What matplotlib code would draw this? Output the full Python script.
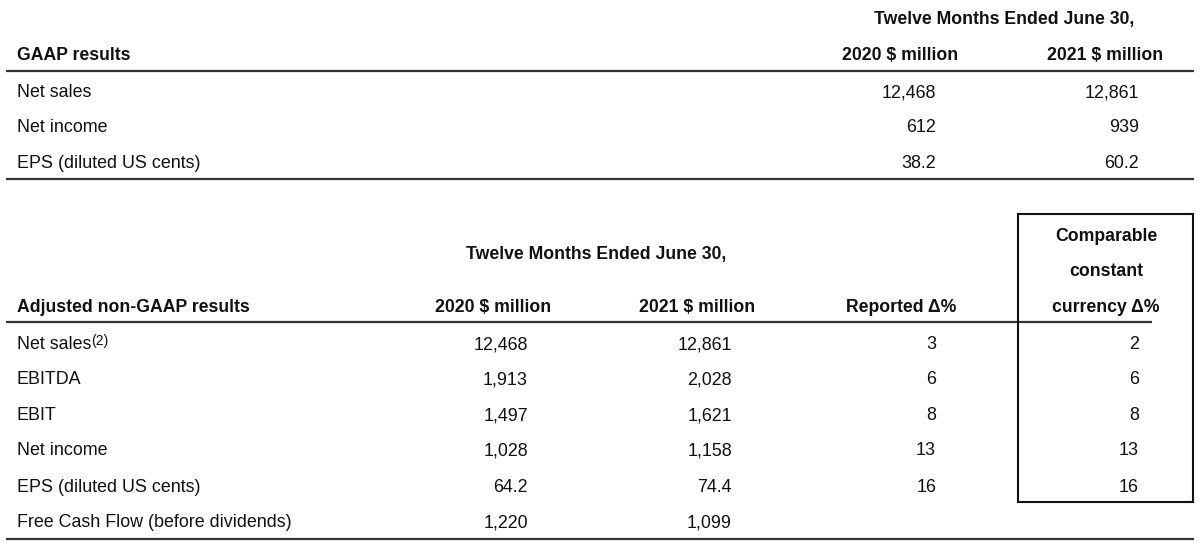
import matplotlib
matplotlib.use("Agg")
import matplotlib.pyplot as plt

# ---- data ----
gaap_labels = ["Net sales", "Net income", "EPS (diluted US cents)"]
gaap_2020 = ["12,468", "612", "38.2"]
gaap_2021 = ["12,861", "939", "60.2"]

adj_labels = ["Net sales", "EBITDA", "EBIT", "Net income",
              "EPS (diluted US cents)", "Free Cash Flow (before dividends)"]
adj_2020 = ["12,468", "1,913", "1,497", "1,028", "64.2", "1,220"]
adj_2021 = ["12,861", "2,028", "1,621", "1,158", "74.4", "1,099"]
adj_reported = ["3", "6", "8", "13", "16", ""]
adj_ccy = ["2", "6", "8", "13", "16", ""]

period_title = "Twelve Months Ended June 30,"
col_2020 = "2020 $ million"
col_2021 = "2021 $ million"

plt.rcParams['font.family'] = ['Liberation Sans', 'DejaVu Sans']
FS = 12.9
FSB = 12.7
TC = "#111111"
LC = "#333333"

fig = plt.figure(figsize=(12, 5.49), dpi=100)
ax = fig.add_axes([0, 0, 1, 1])
ax.set_xlim(0, 1200)
ax.set_ylim(549, 0)
ax.axis("off")

def t(x, y, s, ha="left", bold=False, size=None):
    # y is the vertical centre of the capital letters
    if size is None:
        size = FSB if bold else FS
    cap = 0.716 * size * 100 / 72.0
    return ax.text(x, y + cap / 2, s, ha=ha, va="baseline", fontsize=size,
                   color=TC, fontweight="bold" if bold else "normal")

# ---- top table ----
t(1004, 18, period_title, ha="center", bold=True)
t(17, 54, "GAAP results", bold=True)
t(900, 54, col_2020, ha="center", bold=True)
t(1105, 54, col_2021, ha="center", bold=True)
ax.plot([6, 1194], [71, 71], color=LC, lw=1.6, solid_capstyle="butt")
top_rows = [91, 126, 162]
for y, lab, a, b in zip(top_rows, gaap_labels, gaap_2020, gaap_2021):
    t(17, y, lab)
    t(936, y, a, ha="right")
    t(1139, y, b, ha="right")
ax.plot([6, 1194], [179, 179], color=LC, lw=1.6, solid_capstyle="butt")

# ---- bottom table ----
t(596, 253, period_title, ha="center", bold=True)
t(17, 306, "Adjusted non-GAAP results", bold=True)
t(493, 306, col_2020, ha="center", bold=True)
t(697, 306, col_2021, ha="center", bold=True)
t(901, 306, "Reported \u0394%", ha="center", bold=True)
t(1106, 235, "Comparable", ha="center", bold=True)
t(1106, 270, "constant", ha="center", bold=True)
t(1106, 306, "currency \u0394%", ha="center", bold=True)
ax.plot([6, 1152], [322, 322], color=LC, lw=1.6, solid_capstyle="butt")

bot_rows = [343, 378, 414, 449, 486, 521]
fig.canvas.draw()
renderer = fig.canvas.get_renderer()
inv = ax.transData.inverted()
for i, (y, lab, a, b, r, c) in enumerate(zip(bot_rows, adj_labels, adj_2020,
                                              adj_2021, adj_reported, adj_ccy)):
    txt = t(17, y, lab)
    if i == 0:
        bb = txt.get_window_extent(renderer=renderer)
        x1 = inv.transform((bb.x1, bb.y1))[0]
        t(x1, y - 3, "(2)", size=10)
    t(528, y, a, ha="right")
    t(732, y, b, ha="right")
    t(936, y, r, ha="right")
    t(1139, y, c, ha="right")
ax.plot([6, 1194], [539, 539], color=LC, lw=1.6, solid_capstyle="butt")

# box around comparable constant currency column
ax.plot([1018, 1193, 1193, 1018, 1018], [214, 214, 502, 502, 214],
        color="#111111", lw=1.5, solid_joinstyle="miter")

fig.savefig("out.png", dpi=100)
